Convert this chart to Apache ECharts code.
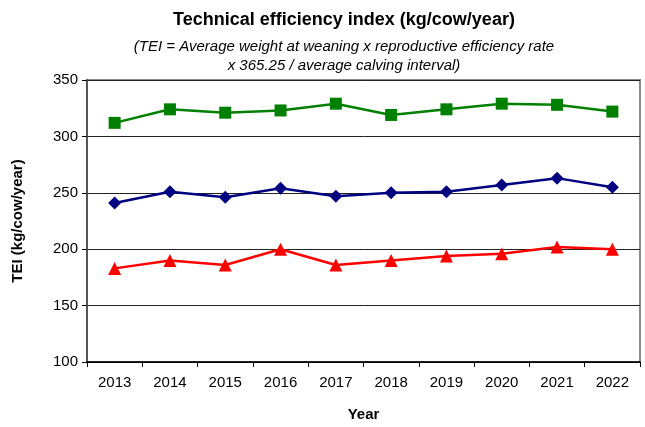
<!DOCTYPE html>
<html>
<head>
<meta charset="utf-8">
<script src="https://cdn.jsdelivr.net/npm/echarts@6/dist/echarts.min.js"></script>
<style>
  html, body { margin: 0; padding: 0; background: #fff; }
  #chart { width: 645px; height: 427px; }
</style>
</head>
<body>
<div id="chart"></div>
<script>
var years = ['2013', '2014', '2015', '2016', '2017', '2018', '2019', '2020', '2021', '2022'];
var greenTEI = [312, 324, 321, 323, 329, 319, 324, 329, 328, 322];
var navyTEI = [241, 251, 246, 254, 247, 250, 251, 257, 263, 255];
var redTEI = [183, 190, 186, 200, 186, 190, 194, 196, 202, 200];

var font = '"Liberation Sans", Arial, sans-serif';

var myChart = echarts.init(document.getElementById('chart'));
var option = {
    animation: false,
    backgroundColor: '#fff',
    graphic: [
        { type: 'text', x: 344, y: 11, style: { text: 'Technical efficiency index (kg/cow/year)', font: 'bold 18px ' + font, fill: '#000', textAlign: 'center' } },
        { type: 'text', x: 344, y: 39, style: { text: '(TEI = Average weight at weaning x reproductive efficiency rate', font: 'italic 15px ' + font, fill: '#000', textAlign: 'center' } },
        { type: 'text', x: 344, y: 58, style: { text: 'x 365.25 / average calving interval)', font: 'italic 15px ' + font, fill: '#000', textAlign: 'center' } }
    ],
    grid: {
        left: 87,
        top: 80,
        right: 5,
        bottom: 60,
        show: true,
        borderColor: '#8a8a8a',
        borderWidth: 2
    },
    xAxis: {
        type: 'category',
        data: years,
        boundaryGap: true,
        name: 'Year',
        nameLocation: 'middle',
        nameGap: 45,
        nameTextStyle: { fontFamily: font, fontWeight: 'bold', fontSize: 15, color: '#000' },
        axisLine: { lineStyle: { color: '#000', width: 1.5 } },
        axisTick: { show: true, length: 5, lineStyle: { color: '#000' } },
        axisLabel: { fontFamily: font, fontSize: 15, color: '#000', margin: 13 }
    },
    yAxis: {
        type: 'value',
        min: 100,
        max: 350,
        interval: 50,
        name: 'TEI (kg/cow/year)',
        nameLocation: 'middle',
        nameGap: 62,
        nameTextStyle: { fontFamily: font, fontWeight: 'bold', fontSize: 15, color: '#000' },
        axisLine: { show: true, lineStyle: { color: '#555', width: 2 } },
        axisTick: { show: true, length: 5, lineStyle: { color: '#000' } },
        axisLabel: { fontFamily: font, fontSize: 15, color: '#000', margin: 9 },
        splitLine: { show: true, lineStyle: { color: '#222', width: 1 } }
    },
    series: [
        {
            name: 'green',
            type: 'line',
            data: greenTEI,
            symbol: 'rect',
            symbolSize: 12,
            itemStyle: { color: '#008000' },
            lineStyle: { color: '#008000', width: 2.5 }
        },
        {
            name: 'navy',
            type: 'line',
            data: navyTEI,
            symbol: 'diamond',
            symbolSize: 13,
            itemStyle: { color: '#000080' },
            lineStyle: { color: '#000080', width: 2.5 }
        },
        {
            name: 'red',
            type: 'line',
            data: redTEI,
            symbol: 'triangle',
            symbolSize: 13,
            itemStyle: { color: '#ff0000' },
            lineStyle: { color: '#ff0000', width: 2.5 }
        }
    ]
};

myChart.setOption(option);
</script>
</body>
</html>
